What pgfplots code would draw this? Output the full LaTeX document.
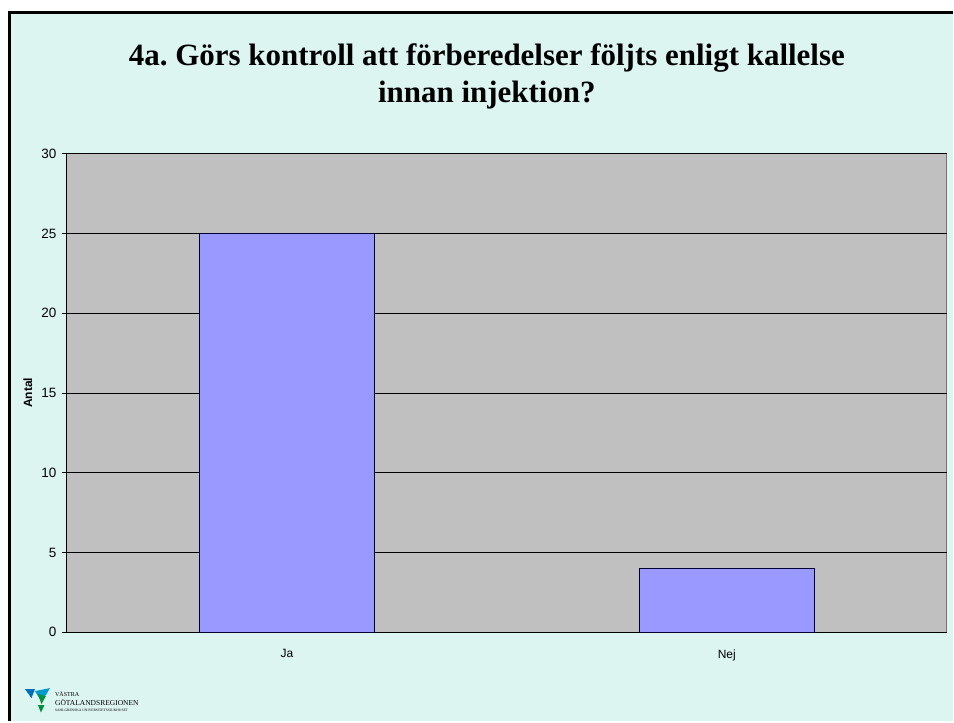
\documentclass[border=0pt]{standalone}
\usepackage{pgfplots}
\pgfplotsset{compat=1.18}
\usepackage{fontspec}
\setmainfont{Liberation Serif}
\newfontfamily\arial{Liberation Sans}
\definecolor{slide}{RGB}{221,245,241}
\definecolor{plotbg}{RGB}{192,192,192}
\definecolor{barblue}{RGB}{153,153,255}
\definecolor{logoblue}{RGB}{0,110,185}
\definecolor{logogreen}{RGB}{0,145,60}

\begin{document}
\frenchspacing
\begin{tikzpicture}[x=1pt,y=1pt]
  % slide background and frame
  \fill[white] (0,0) rectangle (954,722);
  \fill[slide] (9,0) rectangle (954,710);
  \draw[black, line width=2.5pt] (9.5,0) -- (9.5,709.5) -- (954,709.5);

  % title, two lines
  \node[anchor=base, inner sep=0pt, font=\bfseries\fontsize{31}{36}\selectfont] at (487.5,656)
    {4a. Görs kontroll att förberedelser följts enligt kallelse};
  \node[anchor=base, inner sep=0pt, font=\bfseries\fontsize{31}{36}\selectfont] at (487.5,619)
    {innan injektion?};

  \begin{axis}[
    at={(67pt,89pt)}, anchor=south west,
    width=881pt, height=479pt, scale only axis,
    axis background/.style={fill=plotbg, draw=gray!90!black, line width=1pt},
    axis x line*=bottom, axis y line*=left,
    axis line style={black, line width=0.9pt, -},
    xmin=-0.5, xmax=1.5,
    ymin=0, ymax=30,
    ytick={0,5,...,30},
    ymajorgrids,
    major grid style={black, line width=0.8pt},
    xtick={0,1}, xticklabels={Ja,Nej},
    x tick style={draw=none},
    extra x ticks={-0.5,0.5,1.5}, extra x tick labels={},
    extra x tick style={grid=none, tick style={draw=black, line width=0.9pt}},
    tick align=outside,
    major tick length=5pt,
    y tick style={black, line width=0.9pt},
    /pgf/number format/assume math mode=true,
    tick label style={font=\arial\fontsize{13.5}{15}\selectfont},
    xticklabel style={font=\arial\fontsize{12}{14}\selectfont, yshift=-9pt},
    yticklabel style={xshift=-2pt},
    ylabel={Antal},
    every axis y label/.style={at={(axis description cs:0,0.5)}, xshift=-39pt,
      rotate=90, anchor=center, font=\arial\bfseries\fontsize{12}{14}\selectfont},
    ybar, bar width=175pt,
  ]
    \addplot[fill=barblue, draw=black!80!blue, line width=1pt] coordinates {(0,25) (1,4)};
  \end{axis}

  % logo
  \fill[logoblue] (25,32) -- (35,32) -- (31.5,23) -- cycle;
  \fill[logoblue!70!cyan] (35,30) -- (50,33) -- (46,26) -- (40,22) -- cycle;
  \fill[logogreen] (38,27) -- (46,25) -- (41.5,17) -- cycle;
  \fill[logogreen] (38,16) -- (44.5,16) -- (41,8.5) -- cycle;
  \node[anchor=west, inner sep=0pt, font=\fontsize{6}{7}\selectfont] at (55,27) {VÄSTRA};
  \node[anchor=west, inner sep=0pt, font=\fontsize{7.5}{8}\selectfont] at (55,18.5) {GÖTALANDSREGIONEN};
  \node[anchor=west, inner sep=0pt, font=\fontsize{3.6}{4}\selectfont] at (55,11) {SAHLGRENSKA UNIVERSITETSSJUKHUSET};
\end{tikzpicture}
\end{document}
